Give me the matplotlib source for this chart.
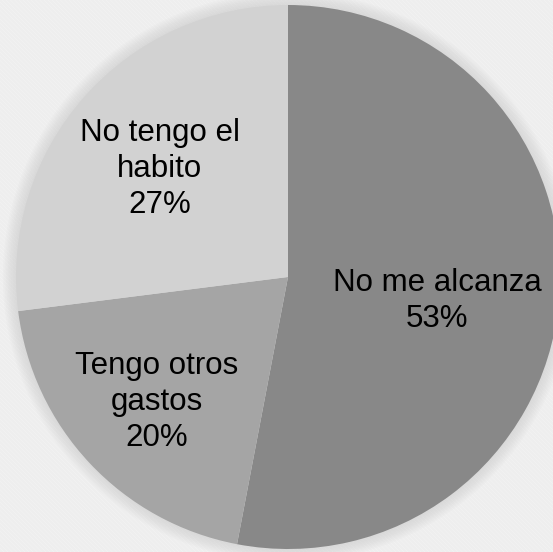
import matplotlib
matplotlib.use("Agg")
from matplotlib import pyplot as plt
from matplotlib.patches import Rectangle, Circle

labels = ['No me alcanza', 'Tengo otros\ngastos', 'No tengo el\nhabito']
values = [53, 20, 27]
colors = ['#888888', '#a5a5a5', '#d2d2d2']
label_pos = [(0.548, -0.088), (-0.482, -0.46), (-0.471, 0.397)]

plt.rcParams['font.family'] = ['Liberation Sans', 'DejaVu Sans']
plt.rcParams['hatch.linewidth'] = 2.0
plt.rcParams['hatch.color'] = '#eeeeee'

fig = plt.figure(figsize=(5.53, 5.52), dpi=100)
ax = fig.add_axes([0, 0, 1, 1])
r = 272.0
cx, cy = 288.0, 277.0

# striped background
ax.add_patch(Rectangle((-3, -3), 6, 6, facecolor='white', edgecolor='#eeeeee',
                       hatch='\\\\\\\\\\\\\\\\', linewidth=0, zorder=0))

# soft shadow around the pie
for i in range(8):
    ax.add_patch(Circle((0, 0), 1.0 + 0.006 * (i + 1), facecolor='#c8c8c8',
                        edgecolor='none', alpha=0.08, zorder=1))

wedges, _ = ax.pie(values, colors=colors, startangle=90, counterclock=False,
                   radius=1.0, wedgeprops=dict(linewidth=0))
for w in wedges:
    w.set_zorder(2)

ax.set_xlim(-cx / r, (553 - cx) / r)
ax.set_ylim(-(552 - cy) / r, cy / r)
ax.set_aspect('equal')
ax.axis('off')

total = sum(values)
for lab, v, (x, y) in zip(labels, values, label_pos):
    ax.text(x, y, f'{lab}\n{round(100 * v / total)}%', ha='center', va='center',
            fontsize=22.5, color='black', linespacing=1.27, zorder=3)

fig.savefig('out.png', dpi=100)
